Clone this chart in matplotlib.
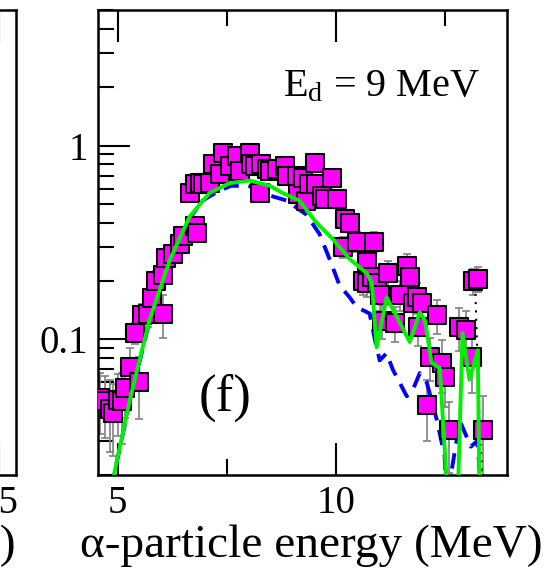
import numpy as np
import matplotlib
matplotlib.use("Agg")
import matplotlib.pyplot as plt
from matplotlib.ticker import FixedLocator, LogLocator, FuncFormatter, NullFormatter

plt.rcParams['font.family'] = ['Liberation Serif', 'DejaVu Serif']
plt.rcParams['mathtext.fontset'] = 'custom'
plt.rcParams['mathtext.rm'] = 'Liberation Serif'
plt.rcParams['mathtext.it'] = 'Liberation Serif:italic'
plt.rcParams['mathtext.bf'] = 'Liberation Serif:bold'

# measured alpha spectrum, E_d = 9 MeV
energy = [4.59, 4.70, 4.82, 4.89, 5.00, 5.11, 5.16, 5.28, 5.39, 5.50,
          5.57, 5.69, 5.78, 5.89, 6.03, 6.05, 6.12, 6.26, 6.42, 6.49,
          6.65, 6.77, 6.81, 6.77, 6.88, 6.95, 7.11, 7.18, 7.34, 7.41,
          7.57, 7.73, 7.80, 8.03, 8.05, 8.14, 8.26, 8.28, 8.42, 8.49,
          8.65, 8.83, 8.88, 9.11, 9.13, 9.24, 9.33, 9.40, 9.52, 9.56,
          9.68, 9.75, 9.91, 10.02, 10.16, 10.21, 10.32, 10.50, 10.62, 10.71,
          10.73, 10.83, 10.89, 10.94, 11.01, 11.06, 11.19, 11.35, 11.47, 11.63,
          11.70, 11.77, 11.86, 11.88, 11.97, 12.09, 12.16, 12.32, 12.43, 12.50,
          12.61, 12.84, 13.00, 13.12, 13.14, 13.26, 13.37]
counts = [0.050, 0.048, 0.044, 0.042, 0.049, 0.048, 0.056, 0.072, 0.108, 0.060,
          0.133, 0.136, 0.163, 0.201, 0.136, 0.214, 0.264, 0.277, 0.312, 0.343,
          0.569, 0.385, 0.353, 0.633, 0.64, 0.633, 0.64, 0.80, 0.71, 0.91,
          0.78, 0.88, 0.74, 0.91, 0.80, 0.78, 0.57, 0.80, 0.76, 0.74,
          0.76, 0.78, 0.70, 0.70, 0.56, 0.68, 0.52, 0.63, 0.81, 0.63,
          0.55, 0.53, 0.68, 0.53, 0.30, 0.42, 0.40, 0.32, 0.20, 0.25,
          0.195, 0.21, 0.32, 0.196, 0.17, 0.125, 0.22, 0.122, 0.17, 0.24,
          0.21, 0.155, 0.165, 0.116, 0.155, 0.046, 0.081, 0.133, 0.076, 0.064,
          0.034, 0.116, 0.112, 0.081, 0.20, 0.206, 0.034]
rel_err = [0.35, 0.35, 0.40, 0.40, 0.35, 0.40, 0.30, 0.25, 0.12, 0.35,
           0.15, 0.15, 0.12, 0.12, 0.25, 0.10, 0.10, 0.10, 0.08, 0.08,
           0.06, 0.08, 0.08, 0.06, 0.06, 0.06, 0.06, 0.06, 0.06, 0.06,
           0.06, 0.06, 0.06, 0.06, 0.06, 0.06, 0.08, 0.06, 0.06, 0.06,
           0.06, 0.06, 0.06, 0.06, 0.08, 0.06, 0.08, 0.06, 0.06, 0.06,
           0.08, 0.08, 0.06, 0.08, 0.12, 0.10, 0.10, 0.12, 0.15, 0.15,
           0.15, 0.15, 0.12, 0.15, 0.18, 0.20, 0.15, 0.20, 0.18, 0.15,
           0.15, 0.18, 0.18, 0.20, 0.18, 0.35, 0.25, 0.20, 0.30, 0.30,
           0.40, 0.25, 0.25, 0.35, 0.15, 0.15, 0.50]

# calculations
green_E = [4.85, 5.28, 5.73, 6.19, 6.65, 7.11, 7.57, 8.03, 8.49, 8.78,
           9.17, 9.56, 9.93, 10.32, 10.71, 10.83, 10.94, 11.17, 11.70, 11.93,
           12.05, 12.20, 12.39, 12.57, 12.80, 12.91, 13.07, 13.26, 13.30]
green_v = [0.017, 0.049, 0.126, 0.255, 0.43, 0.57, 0.64, 0.66, 0.62, 0.57,
           0.52, 0.40, 0.33, 0.26, 0.22, 0.195, 0.091, 0.165, 0.097, 0.138,
           0.125, 0.076, 0.071, 0.015, 0.015, 0.108, 0.062, 0.088, 0.015]

blue_E = [4.85, 5.28, 5.73, 6.19, 6.65, 6.95, 7.30, 7.60, 8.00, 8.20,
          8.40, 8.88, 9.33, 9.63, 9.86, 10.09, 10.32, 10.48, 10.78, 10.90,
          11.01, 11.17, 11.31, 11.63, 11.77, 11.93, 12.09, 12.32, 12.50, 12.55,
          12.85, 13.10, 13.25, 13.35]
blue_v = [0.017, 0.048, 0.124, 0.25, 0.42, 0.52, 0.58, 0.62, 0.62, 0.60,
          0.56, 0.52, 0.44, 0.35, 0.26, 0.19, 0.165, 0.147, 0.136, 0.10,
          0.078, 0.085, 0.070, 0.051, 0.055, 0.067, 0.060, 0.0385, 0.025, 0.015,
          0.038, 0.028, 0.030, 0.015]

dot_E = [13.20, 13.28, 13.38]
dot_v = [0.19, 0.05, 0.015]

energy = np.array(energy)
counts = np.array(counts)
err = counts * np.array(rel_err)

fig = plt.figure(figsize=(5.59, 5.75), dpi=100)
W, H = 559, 575

def style(ax):
    for s in ax.spines.values():
        s.set_linewidth(1.8)
    ax.tick_params(which='both', direction='in', top=True, right=False,
                   width=1.5, labelsize=28, pad=7)
    ax.tick_params(which='major', length=23)
    ax.tick_params(which='minor', length=11.5)

xlab = 'α-particle energy (MeV)'

# neighbouring panel, only its right edge is visible
axl = fig.add_axes([-400 / W, 1 - 475 / H, 416 / W, 465 / H])
style(axl)
axl.set_yscale('log')
axl.set_ylim(0.02, 5)
axl.set_xlim(5.85, 15.39)
axl.xaxis.set_major_locator(FixedLocator([15]))
axl.xaxis.set_minor_locator(FixedLocator([]))
axl.yaxis.set_major_formatter(NullFormatter())
axl.yaxis.set_minor_formatter(NullFormatter())
axl.tick_params(axis='y', which='both', left=False)
axl.set_xlabel(xlab, fontsize=34, loc='right', labelpad=2)

ax = fig.add_axes([98 / W, 1 - 475 / H, 409 / W, 465 / H])
style(ax)

ax.errorbar(energy, counts, yerr=err, fmt='none', ecolor='#808080',
            elinewidth=1.2, capsize=3, capthick=1.2, zorder=2)
ax.plot(dot_E, dot_v, color='black', ls=(0, (1, 3)), lw=1.5, zorder=2)
ax.plot(blue_E, blue_v, color='#0000ff', ls=(0, (4, 2.5)), lw=2.8, zorder=3)
ax.scatter(energy, counts, marker='s', s=170, facecolor='#ff00ff',
           edgecolor='black', linewidth=1.5, zorder=4)
ax.plot(green_E, green_v, color='#00f000', lw=2.8, zorder=5)

ax.set_yscale('log')
ax.set_ylim(0.02, 5)
ax.set_xlim(4.55, 13.93)
ax.xaxis.set_major_locator(FixedLocator([5, 10]))
ax.xaxis.set_minor_locator(FixedLocator([7.5, 12.5]))
ax.yaxis.set_major_locator(LogLocator(base=10))
ax.yaxis.set_minor_locator(LogLocator(base=10, subs=np.arange(2, 10)))
ax.yaxis.set_major_formatter(FuncFormatter(lambda v, p: '%g' % v))
ax.yaxis.set_minor_formatter(NullFormatter())

ax.set_xlabel(xlab, fontsize=34, labelpad=2)
ax.xaxis.label.set_x(0.522)
ax.text(0.935, 0.835, r'E$_\mathrm{d}$ = 9 MeV', transform=ax.transAxes,
        ha='right', va='center', fontsize=29)
ax.text(0.31, 0.165, '(f)', transform=ax.transAxes, ha='center', va='center',
        fontsize=38)

fig.savefig('out.png', dpi=100)
